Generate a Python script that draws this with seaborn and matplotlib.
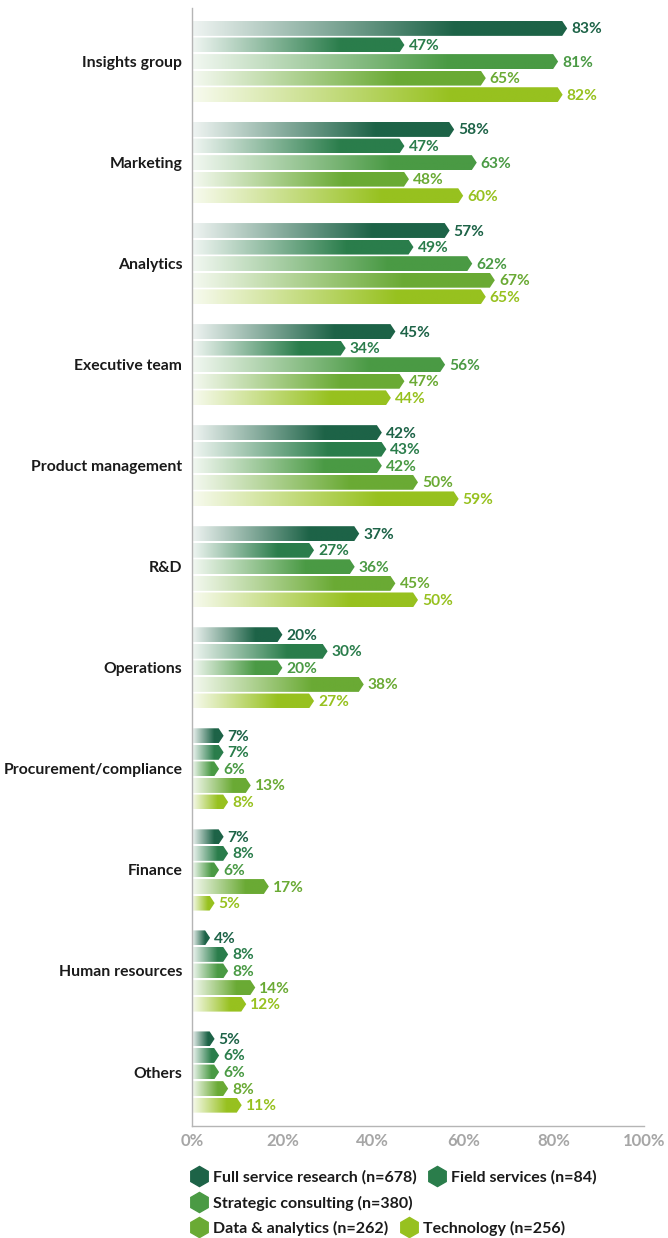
import numpy as np
import pandas as pd
import seaborn as sns
import matplotlib.pyplot as plt
from matplotlib.patches import Polygon
from matplotlib.lines import Line2D
from matplotlib.colors import to_rgb

# data
categories = ['Insights group', 'Marketing', 'Analytics', 'Executive team', 'Product management',
              'R&D', 'Operations', 'Procurement/compliance', 'Finance', 'Human resources', 'Others']
series = ['Full service research (n=678)', 'Field services (n=84)', 'Strategic consulting (n=380)',
          'Data & analytics (n=262)', 'Technology (n=256)']
full_service = [83, 58, 57, 45, 42, 37, 20, 7, 7, 4, 5]
field_services = [47, 47, 49, 34, 43, 27, 30, 7, 8, 8, 6]
strategic = [81, 63, 62, 56, 42, 36, 20, 6, 6, 8, 6]
data_analytics = [65, 48, 67, 47, 50, 45, 38, 13, 17, 14, 8]
technology = [82, 60, 65, 44, 59, 50, 27, 8, 5, 12, 11]
colors = ['#1d6347', '#2a7d4b', '#4a9a44', '#6aaa34', '#97c11f']

values = [full_service, field_services, strategic, data_analytics, technology]
rows = []
for s, vals in zip(series, values):
    for c, v in zip(categories, vals):
        rows.append({'category': c, 'series': s, 'value': v})
df = pd.DataFrame(rows)

sns.set_style('white')
plt.rcParams['font.family'] = ['Lato', 'DejaVu Sans']

fig = plt.figure(figsize=(6.68, 12.38), dpi=100)
ax = fig.add_axes([192 / 668, 112 / 1238, 452 / 668, 1118 / 1238])

sns.barplot(data=df, x='value', y='category', hue='series', order=categories, hue_order=series,
            palette=colors, orient='h', width=0.82, saturation=1, legend=False, ax=ax)

tip = 1.1
patches = list(ax.patches)
for p in patches:
    v = p.get_width()
    if v <= 0:
        continue
    col = np.array(to_rgb(p.get_facecolor()))
    yc = p.get_y() + p.get_height() / 2
    h = p.get_height() * 0.9 / 2
    p.set_visible(False)
    poly = Polygon([(0, yc - h), (v - tip, yc - h), (v, yc), (v - tip, yc + h), (0, yc + h)],
                   closed=True, facecolor='none', edgecolor='none')
    ax.add_patch(poly)
    n = 256
    t = np.linspace(0, 1, n)
    f = np.clip(t / 0.7, 0, 1)[:, None]
    start = 0.93 * np.ones(3) + 0.07 * col
    grad = (1 - f) * start + f * col
    img = ax.imshow(grad[None, :, :], extent=[0, v, yc + h, yc - h], aspect='auto',
                    interpolation='bilinear', zorder=2)
    img.set_clip_path(poly)
    ax.text(v + 0.9, yc + 0.01, f'{int(v)}%', ha='left', va='center', fontsize=11.2,
            fontweight='bold', color=col)

ax.set_xlim(0, 100)
ax.set_ylim(10.534, -0.53)
ax.set_xticks([0, 20, 40, 60, 80, 100])
ax.set_xticklabels(['0%', '20%', '40%', '60%', '80%', '100%'])
ax.tick_params(axis='x', length=0, pad=5, labelsize=12, labelcolor='#a6a6a6')
ax.tick_params(axis='y', length=0, pad=7, labelsize=11.3, labelcolor='#1a1a1a')
for lab in ax.get_xticklabels() + ax.get_yticklabels():
    lab.set_fontweight('bold')
ax.set_xlabel('')
ax.set_ylabel('')
for s in ['top', 'right']:
    ax.spines[s].set_visible(False)
for s in ['left', 'bottom']:
    ax.spines[s].set_color('#b5b5b5')
    ax.spines[s].set_linewidth(1)

# legend rows
def handle(c):
    return Line2D([], [], marker='h', linestyle='none', markersize=14.5, markerfacecolor=c,
                  markeredgecolor=c)

rows_leg = [([0, 1], 1177), ([2], 1203), ([3, 4], 1228)]
for idx, yy in rows_leg:
    leg = fig.legend([handle(colors[i]) for i in idx], [series[i] for i in idx],
                     loc='center left', bbox_to_anchor=(191 / 668, 1 - yy / 1238), ncol=len(idx),
                     frameon=False, handlelength=1.0, handletextpad=0.4, columnspacing=0.75,
                     borderpad=0, borderaxespad=0,
                     prop={'size': 11.5, 'weight': 'bold', 'family': ['Lato', 'DejaVu Sans']})
    for t in leg.get_texts():
        t.set_color('#1a1a1a')

fig.savefig('out.png', dpi=100)
